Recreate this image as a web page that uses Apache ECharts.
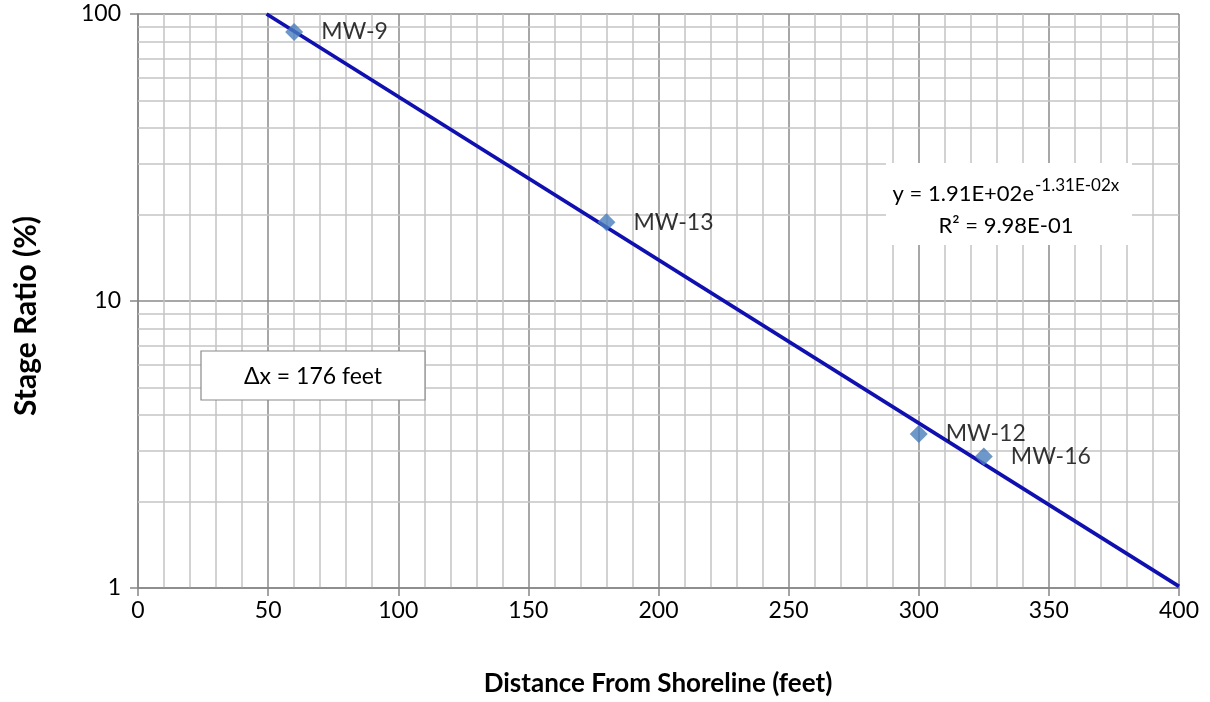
<!DOCTYPE html>
<html>
<head>
<meta charset="utf-8">
<script src="https://cdn.jsdelivr.net/npm/echarts@6/dist/echarts.min.js"></script>
<style>
  html, body { margin: 0; padding: 0; background: #fff; }
  #chart { width: 1210px; height: 702px; }
</style>
</head>
<body>
<div id="chart"></div>
<script>
// Monitoring wells: distance from shoreline (feet) and stage ratio (%)
const wellNames = ['MW-9', 'MW-13', 'MW-12', 'MW-16'];
const distances = [60, 180, 300, 325];
const stageRatios = [86.5, 18.8, 3.44, 2.87];

// Exponential trendline y = a * e^(b x), as stated in the equation box
const trendA = 191;
const trendB = -0.0131;
const trendR2 = '9.98E-01';
const trendXRange = [49.4, 400];

const xTicks = [0, 50, 100, 150, 200, 250, 300, 350, 400];
const yDecades = [1, 10, 100];
const deltaXText = '\u0394x = 176 feet';

const FONT = 'Lato, "Open Sans", sans-serif';

// light log-scale grid lines at 2..9 within each decade
const minorY = [];
for (let d = 0; d < yDecades.length - 1; d++) {
  for (let k = 2; k <= 9; k++) minorY.push(yDecades[d] * k);
}

const trendData = trendXRange.map(x => [x, trendA * Math.exp(trendB * x)]);
const wellData = distances.map((x, i) => ({ name: wellNames[i], value: [x, stageRatios[i]] }));

const chart = echarts.init(document.getElementById('chart'), null, { renderer: 'canvas' });

chart.setOption({
  animation: false,
  backgroundColor: '#ffffff',
  grid: { left: 138, right: 31, top: 14, bottom: 114, containLabel: false },
  xAxis: {
    type: 'value',
    min: xTicks[0],
    max: xTicks[xTicks.length - 1],
    interval: 50,
    axisLine: { show: true, onZero: false, lineStyle: { color: '#868686', width: 1.5 } },
    axisTick: { show: true, inside: false, length: 8, lineStyle: { color: '#868686', width: 1.5 } },
    axisLabel: { color: '#000', fontSize: 23, fontFamily: FONT, margin: 11 },
    splitLine: { show: true, lineStyle: { color: '#8a8a8a', width: 1.5 } },
    minorTick: { show: false, splitNumber: 5 },
    minorSplitLine: { show: true, lineStyle: { color: '#c4c4c4', width: 1.5 } }
  },
  yAxis: {
    type: 'log',
    logBase: 10,
    min: yDecades[0],
    max: yDecades[yDecades.length - 1],
    axisLine: { show: true, lineStyle: { color: '#868686', width: 1.5 } },
    axisTick: { show: true, inside: false, length: 8, lineStyle: { color: '#868686', width: 1.5 } },
    axisLabel: { color: '#000', fontSize: 23, fontFamily: FONT, margin: 17 },
    splitLine: { show: true, lineStyle: { color: '#8a8a8a', width: 1.5 } },
    minorTick: { show: false },
    minorSplitLine: { show: false }
  },
  series: [
    {
      name: 'minor grid',
      type: 'line',
      data: [],
      silent: true,
      z: 1,
      markLine: {
        silent: true,
        z: 1,
        symbol: 'none',
        animation: false,
        label: { show: false },
        lineStyle: { color: '#c4c4c4', width: 1.5, type: 'solid' },
        data: minorY.map(v => ({ yAxis: v }))
      }
    },
    {
      name: 'Trendline',
      type: 'line',
      data: trendData,
      showSymbol: false,
      symbol: 'none',
      clip: true,
      z: 3,
      lineStyle: { color: '#1010b0', width: 3.8 }
    },
    {
      name: 'Wells',
      type: 'scatter',
      data: wellData,
      symbol: 'diamond',
      symbolSize: [18, 18],
      z: 4,
      itemStyle: { color: '#4a7ebb' },
      label: {
        show: true,
        position: 'right',
        distance: 18,
        formatter: p => p.name,
        color: '#000',
        fontSize: 23,
        fontFamily: FONT
      }
    }
  ],
  graphic: [
    // x axis title
    {
      type: 'text',
      x: 658, y: 684, z: 100,
      style: {
        text: 'Distance From Shoreline (feet)',
        font: 'bold 26px ' + FONT,
        fill: '#000',
        align: 'center',
        verticalAlign: 'middle'
      }
    },
    // y axis title
    {
      type: 'text',
      x: 26, y: 316, z: 100,
      rotation: Math.PI / 2,
      style: {
        text: 'Stage Ratio (%)',
        font: 'bold 30px ' + FONT,
        fill: '#000',
        align: 'center',
        verticalAlign: 'middle'
      }
    },
    // trendline equation box
    { type: 'rect', z: 100, shape: { x: 886, y: 163, width: 246, height: 82 }, style: { fill: '#fff' } },
    {
      type: 'text', x: 1034, y: 194, z: 101,
      style: { text: 'y = 1.91E+02e', font: '22px ' + FONT, fill: '#000', align: 'right', verticalAlign: 'middle' }
    },
    {
      type: 'text', x: 1035, y: 186, z: 101,
      style: { text: '-1.31E-02x', font: '17px ' + FONT, fill: '#000', align: 'left', verticalAlign: 'middle' }
    },
    {
      type: 'text', x: 1006, y: 226, z: 101,
      style: { text: 'R\u00b2 = ' + trendR2, font: '22px ' + FONT, fill: '#000', align: 'center', verticalAlign: 'middle' }
    },
    // delta-x annotation box
    { type: 'rect', z: 100, shape: { x: 201, y: 351, width: 224, height: 49 }, style: { fill: '#fff', stroke: '#8a8a8a', lineWidth: 1.2 } },
    {
      type: 'text', x: 313, y: 377, z: 101,
      style: { text: deltaXText, font: '23px ' + FONT, fill: '#000', align: 'center', verticalAlign: 'middle' }
    }
  ]
});
</script>
</body>
</html>
